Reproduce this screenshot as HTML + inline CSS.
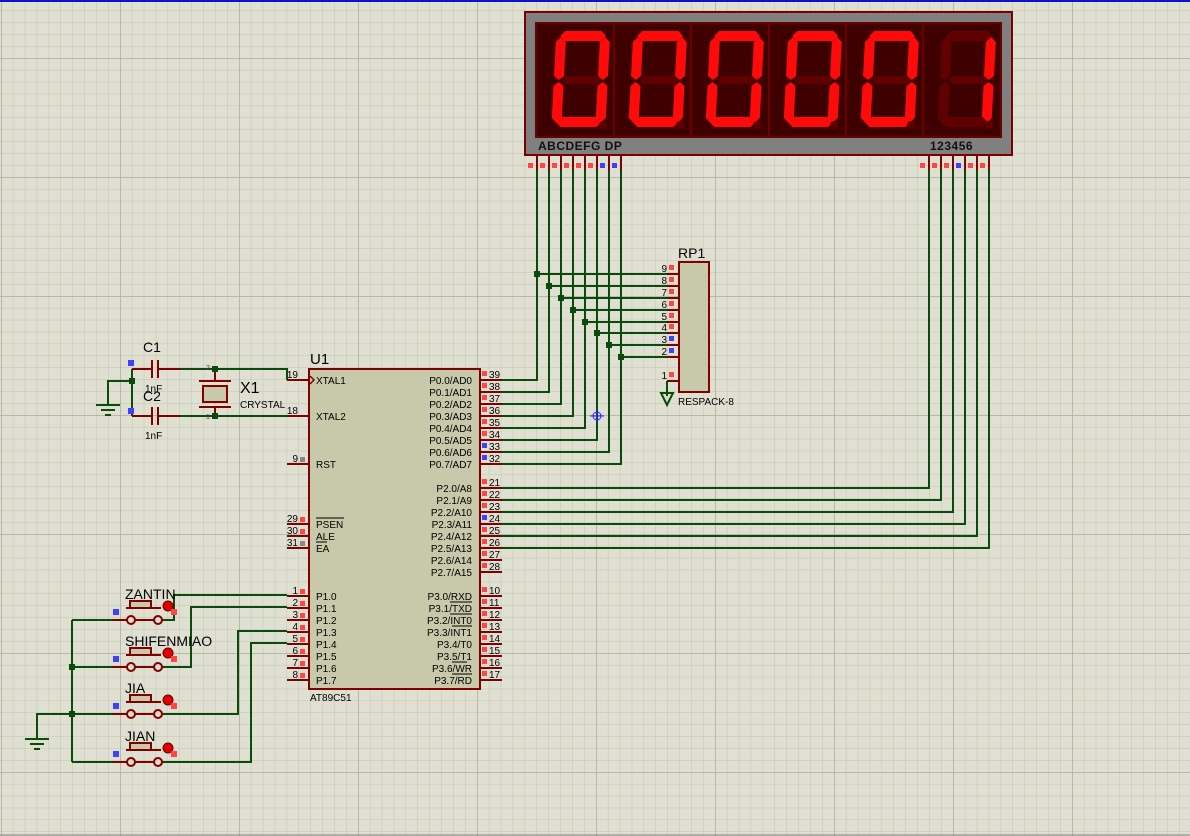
<!DOCTYPE html>
<html><head><meta charset="utf-8"><style>
html,body{margin:0;padding:0;background:#e0e0d2;}
svg{display:block;font-family:"Liberation Sans",sans-serif;}
.w{stroke:#0a4a0a;stroke-width:2;fill:none;}
.p{stroke:#800000;stroke-width:2;fill:none;}
.t{font-size:10px;fill:#000;}
.r{fill:#ff4646;}
.b{fill:#4040ff;}
.g{fill:#888;}
</style></head><body>
<svg width="1190" height="836" viewBox="0 0 1190 836" xmlns="http://www.w3.org/2000/svg">
<defs>
<pattern id="minor" x="1" y="10.4" width="11.9" height="11.9" patternUnits="userSpaceOnUse">
<path d="M0 0H11.9M0 0V11.9" stroke="#c4c4b4" stroke-width="1" fill="none"/>
</pattern>
<pattern id="major" x="1" y="58" width="119" height="119" patternUnits="userSpaceOnUse">
<path d="M0 0H119M0 0V119" stroke="#acac9c" stroke-width="1.5" fill="none"/>
</pattern>
<g id="d0">
<polygon points="21,36 26,31 62,31 67,36 62,41 26,41" fill="#ff0a0a"/>
<polygon points="61,42 66,37 71,42 71,76 66,80 61,76" fill="#ff0a0a"/>
<polygon points="61,86 66,82 71,86 71,118 66,123 61,118" fill="#ff0a0a"/>
<polygon points="21,122 26,117 62,117 67,122 62,127 26,127" fill="#ff0a0a"/>
<polygon points="17,86 22,82 27,86 27,118 22,123 17,118" fill="#ff0a0a"/>
<polygon points="17,42 22,37 27,42 27,76 22,80 17,76" fill="#ff0a0a"/>
<polygon points="26,80 30,76 60,76 64,80 60,84 30,84" fill="#600000"/>
</g>
</defs>
<rect width="1190" height="836" fill="#e0e0d2"/>
<rect width="1190" height="836" fill="url(#minor)"/>
<rect width="1190" height="836" fill="url(#major)"/>
<line x1="0" y1="1" x2="1190" y2="1" stroke="#1010d0" stroke-width="2"/>
<line x1="0" y1="835" x2="1190" y2="835" stroke="#808080" stroke-width="1"/>

<!-- display -->
<rect x="525" y="12" width="487" height="143" fill="#808080" stroke="#7a0000" stroke-width="2"/>
<rect x="536" y="23" width="465" height="114" fill="#3e0000" stroke="#6a0000" stroke-width="2"/>
<g stroke="#6a0000" stroke-width="2">
<line x1="614" y1="23" x2="614" y2="137"/><line x1="691" y1="23" x2="691" y2="137"/><line x1="769" y1="23" x2="769" y2="137"/><line x1="846" y1="23" x2="846" y2="137"/><line x1="923" y1="23" x2="923" y2="137"/>
</g>
<g transform="translate(541,0) skewX(-3)"><use href="#d0"/></g>
<g transform="translate(618,0) skewX(-3)"><use href="#d0"/></g>
<g transform="translate(695,0) skewX(-3)"><use href="#d0"/></g>
<g transform="translate(773,0) skewX(-3)"><use href="#d0"/></g>
<g transform="translate(850,0) skewX(-3)"><use href="#d0"/></g>
<g transform="translate(927,0) skewX(-3)">
<polygon points="21,36 26,31 62,31 67,36 62,41 26,41" fill="#600000"/>
<polygon points="61,42 66,37 71,42 71,76 66,80 61,76" fill="#ff0a0a"/>
<polygon points="61,86 66,82 71,86 71,118 66,123 61,118" fill="#ff0a0a"/>
<polygon points="21,122 26,117 62,117 67,122 62,127 26,127" fill="#600000"/>
<polygon points="17,86 22,82 27,86 27,118 22,123 17,118" fill="#600000"/>
<polygon points="17,42 22,37 27,42 27,76 22,80 17,76" fill="#600000"/>
<polygon points="26,80 30,76 60,76 64,80 60,84 30,84" fill="#600000"/>
</g>
<g fill="#600000"><circle cx="603" cy="125" r="4"/><circle cx="680" cy="125" r="4"/><circle cx="757" cy="125" r="4"/><circle cx="834" cy="125" r="4"/><circle cx="911" cy="125" r="4"/><circle cx="989" cy="125" r="4"/></g>
<text x="538" y="150" font-size="12" font-weight="bold" fill="#111" letter-spacing="0.5">ABCDEFG DP</text>
<text x="930" y="150" font-size="12" font-weight="bold" fill="#111" letter-spacing="0.5">123456</text>
<g class="p">
<path d="M537 155V170M549 155V170M561 155V170M573 155V170M585 155V170M597 155V170M609 155V170M621 155V170"/>
<path d="M929 155V170M941 155V170M953 155V170M965 155V170M977 155V170M989 155V170"/>
</g>
<g>
<rect class="r" x="528" y="163" width="5" height="5"/><rect class="r" x="540" y="163" width="5" height="5"/><rect class="r" x="552" y="163" width="5" height="5"/><rect class="r" x="564" y="163" width="5" height="5"/><rect class="r" x="576" y="163" width="5" height="5"/><rect class="r" x="588" y="163" width="5" height="5"/><rect class="b" x="600" y="163" width="5" height="5"/><rect class="b" x="612" y="163" width="5" height="5"/>
<rect class="r" x="920" y="163" width="5" height="5"/><rect class="r" x="932" y="163" width="5" height="5"/><rect class="r" x="944" y="163" width="5" height="5"/><rect class="b" x="956" y="163" width="5" height="5"/><rect class="r" x="968" y="163" width="5" height="5"/><rect class="r" x="980" y="163" width="5" height="5"/>
</g>

<!-- P0 wires -->
<g class="w">
<path d="M537 170V380H502"/><path d="M549 170V392H502"/><path d="M561 170V404H502"/><path d="M573 170V416H502"/>
<path d="M585 170V428H502"/><path d="M597 170V440H502"/><path d="M609 170V452H502"/><path d="M621 170V464H502"/>
<path d="M537 274H667M549 286H667M561 298H667M573 310H667M585 322H667M597 333H667M609 345H667M621 357H667"/>
<path d="M929 170V488H502"/><path d="M941 170V500H502"/><path d="M953 170V512H502"/><path d="M965 170V524H502"/><path d="M977 170V536H502"/><path d="M989 170V548H502"/>
<path d="M667 381V396"/>
</g>
<g fill="#0a4a0a">
<rect x="534" y="271" width="6" height="6"/><rect x="546" y="283" width="6" height="6"/><rect x="558" y="295" width="6" height="6"/><rect x="570" y="307" width="6" height="6"/><rect x="582" y="319" width="6" height="6"/><rect x="594" y="330" width="6" height="6"/><rect x="606" y="342" width="6" height="6"/><rect x="618" y="354" width="6" height="6"/>
</g>
<polygon points="661,393 673,393 667,405" fill="none" stroke="#0a4a0a" stroke-width="2"/>
<g stroke="#2020ff" stroke-width="1" fill="none"><circle cx="597" cy="416" r="4"/><path d="M590 416H604M597 409V423"/></g>

<!-- RP1 -->
<g class="p"><path d="M667 274H679M667 286H679M667 298H679M667 310H679M667 322H679M667 333H679M667 345H679M667 357H679M667 381H679"/></g>
<rect x="679" y="262" width="30" height="130" fill="#c8c8aa" stroke="#800000" stroke-width="2"/>
<text x="678" y="258" font-size="14">RP1</text>
<text x="678" y="405" class="t" font-size="9">RESPACK-8</text>
<g class="t" text-anchor="end" font-size="10">
<text x="667" y="272">9</text><text x="667" y="284">8</text><text x="667" y="296">7</text><text x="667" y="308">6</text><text x="667" y="320">5</text><text x="667" y="331">4</text><text x="667" y="343">3</text><text x="667" y="355">2</text><text x="667" y="379">1</text>
</g>
<rect class="r" x="669" y="265" width="5" height="5"/><rect class="r" x="669" y="277" width="5" height="5"/><rect class="r" x="669" y="289" width="5" height="5"/><rect class="r" x="669" y="301" width="5" height="5"/><rect class="r" x="669" y="313" width="5" height="5"/><rect class="r" x="669" y="324" width="5" height="5"/><rect class="b" x="669" y="336" width="5" height="5"/><rect class="b" x="669" y="348" width="5" height="5"/><rect class="r" x="669" y="372" width="5" height="5"/>

<!-- U1 -->
<g class="p">
<path d="M287 380H309M287 416H309M287 464H309M287 524H309M287 536H309M287 548H309"/>
<path d="M287 596H309M287 608H309M287 620H309M287 632H309M287 644H309M287 656H309M287 668H309M287 680H309"/>
<path d="M480 380H502M480 392H502M480 404H502M480 416H502M480 428H502M480 440H502M480 452H502M480 464H502"/>
<path d="M480 488H502M480 500H502M480 512H502M480 524H502M480 536H502M480 548H502M480 560H502M480 572H502"/>
<path d="M480 596H502M480 608H502M480 620H502M480 632H502M480 644H502M480 656H502M480 668H502M480 680H502"/>
</g>
<rect x="309" y="369" width="171" height="320" fill="#c8c8aa" stroke="#800000" stroke-width="2"/>
<path d="M310 376L314 380L310 384" fill="none" stroke="#800000" stroke-width="1.5"/>
<text x="310" y="364" font-size="15">U1</text>
<text x="310" y="701" class="t" font-size="9.5">AT89C51</text>
<g class="t">
<text x="316" y="384">XTAL1</text><text x="316" y="420">XTAL2</text><text x="316" y="468">RST</text>
<text x="316" y="528">PSEN</text><text x="316" y="540">ALE</text><text x="316" y="552">EA</text>
<text x="316" y="600">P1.0</text><text x="316" y="612">P1.1</text><text x="316" y="624">P1.2</text><text x="316" y="636">P1.3</text><text x="316" y="648">P1.4</text><text x="316" y="660">P1.5</text><text x="316" y="672">P1.6</text><text x="316" y="684">P1.7</text>
</g>
<path d="M316 518H344M316 542H327" stroke="#000" stroke-width="1"/>
<g class="t" text-anchor="end">
<text x="472" y="384">P0.0/AD0</text><text x="472" y="396">P0.1/AD1</text><text x="472" y="408">P0.2/AD2</text><text x="472" y="420">P0.3/AD3</text><text x="472" y="432">P0.4/AD4</text><text x="472" y="444">P0.5/AD5</text><text x="472" y="456">P0.6/AD6</text><text x="472" y="468">P0.7/AD7</text>
<text x="472" y="492">P2.0/A8</text><text x="472" y="504">P2.1/A9</text><text x="472" y="516">P2.2/A10</text><text x="472" y="528">P2.3/A11</text><text x="472" y="540">P2.4/A12</text><text x="472" y="552">P2.5/A13</text><text x="472" y="564">P2.6/A14</text><text x="472" y="576">P2.7/A15</text>
<text x="472" y="600">P3.0/RXD</text><text x="472" y="612">P3.1/TXD</text><text x="472" y="624">P3.2/INT0</text><text x="472" y="636">P3.3/INT1</text><text x="472" y="648">P3.4/T0</text><text x="472" y="660">P3.5/T1</text><text x="472" y="672">P3.6/WR</text><text x="472" y="684">P3.7/RD</text>
</g>
<path d="M450 602H472M450 614H472M452 626H472M452 662H467M452 674H472" stroke="#000" stroke-width="1"/>
<g class="t" text-anchor="end">
<text x="298" y="378">19</text><text x="298" y="414">18</text><text x="298" y="462">9</text><text x="298" y="522">29</text><text x="298" y="534">30</text><text x="298" y="546">31</text>
<text x="298" y="594">1</text><text x="298" y="606">2</text><text x="298" y="618">3</text><text x="298" y="630">4</text><text x="298" y="642">5</text><text x="298" y="654">6</text><text x="298" y="666">7</text><text x="298" y="678">8</text>
</g>
<g>
<rect class="g" x="300" y="457" width="5" height="5"/><rect class="r" x="300" y="517" width="5" height="5"/><rect class="r" x="300" y="529" width="5" height="5"/><rect class="g" x="300" y="541" width="5" height="5"/>
<rect class="r" x="300" y="589" width="5" height="5"/><rect class="r" x="300" y="601" width="5" height="5"/><rect class="r" x="300" y="613" width="5" height="5"/><rect class="r" x="300" y="625" width="5" height="5"/><rect class="r" x="300" y="637" width="5" height="5"/><rect class="r" x="300" y="649" width="5" height="5"/><rect class="r" x="300" y="661" width="5" height="5"/><rect class="r" x="300" y="673" width="5" height="5"/>
</g>
<g class="t">
<text x="489" y="378">39</text><text x="489" y="390">38</text><text x="489" y="402">37</text><text x="489" y="414">36</text><text x="489" y="426">35</text><text x="489" y="438">34</text><text x="489" y="450">33</text><text x="489" y="462">32</text>
<text x="489" y="486">21</text><text x="489" y="498">22</text><text x="489" y="510">23</text><text x="489" y="522">24</text><text x="489" y="534">25</text><text x="489" y="546">26</text><text x="489" y="558">27</text><text x="489" y="570">28</text>
<text x="489" y="594">10</text><text x="489" y="606">11</text><text x="489" y="618">12</text><text x="489" y="630">13</text><text x="489" y="642">14</text><text x="489" y="654">15</text><text x="489" y="666">16</text><text x="489" y="678">17</text>
</g>
<g>
<rect class="r" x="482" y="371" width="5" height="5"/><rect class="r" x="482" y="383" width="5" height="5"/><rect class="r" x="482" y="395" width="5" height="5"/><rect class="r" x="482" y="407" width="5" height="5"/><rect class="r" x="482" y="419" width="5" height="5"/><rect class="r" x="482" y="431" width="5" height="5"/><rect class="b" x="482" y="443" width="5" height="5"/><rect class="b" x="482" y="455" width="5" height="5"/>
<rect class="r" x="482" y="479" width="5" height="5"/><rect class="r" x="482" y="491" width="5" height="5"/><rect class="r" x="482" y="503" width="5" height="5"/><rect class="b" x="482" y="515" width="5" height="5"/><rect class="r" x="482" y="527" width="5" height="5"/><rect class="r" x="482" y="539" width="5" height="5"/><rect class="r" x="482" y="551" width="5" height="5"/><rect class="r" x="482" y="563" width="5" height="5"/>
<rect class="r" x="482" y="587" width="5" height="5"/><rect class="r" x="482" y="599" width="5" height="5"/><rect class="r" x="482" y="611" width="5" height="5"/><rect class="r" x="482" y="623" width="5" height="5"/><rect class="r" x="482" y="635" width="5" height="5"/><rect class="r" x="482" y="647" width="5" height="5"/><rect class="r" x="482" y="659" width="5" height="5"/><rect class="r" x="482" y="671" width="5" height="5"/>
</g>

<!-- crystal / caps -->
<g class="w">
<path d="M180 369H287V380"/><path d="M180 416H287"/>
<path d="M132 369V416"/><path d="M132 381H108V405"/>
</g>
<g class="p">
<path d="M132 369H152M158 369H180M132 416H152M158 416H180"/>
<path d="M152 360V378M158 360V378M152 407V425M158 407V425"/>
<path d="M215 369V381M215 407V416M199 381H231M199 407H231"/>
</g>
<rect x="203" y="386" width="24" height="16" fill="#c8c8aa" stroke="#800000" stroke-width="2"/>
<g fill="#0a4a0a"><rect x="212" y="366" width="6" height="6"/><rect x="212" y="413" width="6" height="6"/><rect x="129" y="378" width="6" height="6"/></g>
<g stroke="#0a4a0a" stroke-width="2"><path d="M96 405H120M101 410H115M105 415H111"/></g>
<rect class="b" x="128" y="360" width="6" height="6"/><rect class="b" x="128" y="408" width="6" height="6"/>
<text x="143" y="352" font-size="14">C1</text><text x="145" y="392" class="t">1nF</text>
<text x="143" y="401" font-size="14">C2</text><text x="145" y="439" class="t">1nF</text>
<text x="240" y="393" font-size="16">X1</text><text x="240" y="408" class="t" font-size="9">CRYSTAL</text>
<text x="206" y="370" font-size="7" fill="#444">2</text><text x="206" y="419" font-size="7" fill="#444">1</text>

<!-- buttons wires -->
<g class="w">
<path d="M72 620V762"/>
<path d="M113 620H72M113 667H72M113 714H72M113 762H72"/>
<path d="M72 714H37V738"/>
<path d="M161 620H174V595H287"/>
<path d="M161 667H191V607H287"/>
<path d="M161 714H238V631H287"/>
<path d="M161 762H251V643H287"/>
</g>
<g fill="#0a4a0a"><rect x="69" y="664" width="6" height="6"/><rect x="69" y="711" width="6" height="6"/></g>
<g stroke="#0a4a0a" stroke-width="2"><path d="M25 739H49M30 744H44M34 749H40"/></g>

<g id="btn1">
<path d="M113 620H127M135 620H154M162 620H163" class="p"/>
<circle cx="131" cy="620" r="4" fill="none" stroke="#800000" stroke-width="2"/>
<circle cx="158" cy="620" r="4" fill="none" stroke="#800000" stroke-width="2"/>
<path d="M126 608H161" class="p"/>
<rect x="130" y="601" width="21" height="7" fill="#c8c8aa" stroke="#800000" stroke-width="2"/>
<circle cx="168" cy="606" r="5" fill="#e00000" stroke="#700000" stroke-width="1"/>
<rect class="r" x="171" y="609" width="6" height="6"/>
<rect class="b" x="113" y="609" width="6" height="6"/>
</g>
<use href="#btn1" y="47"/>
<use href="#btn1" y="94"/>
<use href="#btn1" y="142"/>
<text x="125" y="599" font-size="14">ZANTIN</text>
<text x="125" y="646" font-size="14">SHIFENMIAO</text>
<text x="125" y="693" font-size="14">JIA</text>
<text x="125" y="741" font-size="14">JIAN</text>
</svg>
</body></html>
